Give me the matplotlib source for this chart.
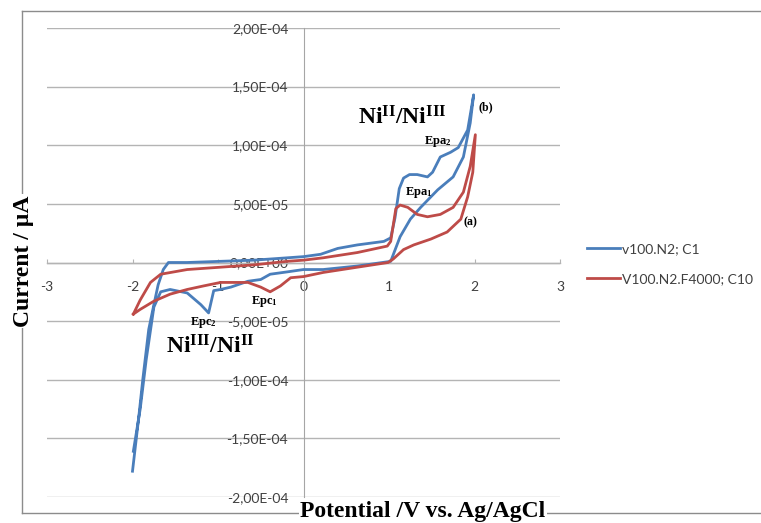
import matplotlib
matplotlib.use("Agg")
import matplotlib.pyplot as plt
import numpy as np
from matplotlib.ticker import FuncFormatter
from matplotlib.lines import Line2D

# Cyclic voltammograms (potential in V, current in 1e-5 A)
blue_x = [-2.00, -1.93, -1.88, -1.81, -1.75, -1.70, -1.64, -1.58, -1.36, -0.97, -0.58, -0.19,
          0.00, 0.20, 0.40, 0.63, 0.94, 1.02, 1.07, 1.12, 1.17, 1.24, 1.33, 1.45, 1.51, 1.60,
          1.72, 1.81, 1.92, 1.99,
          1.95, 1.87, 1.75, 1.57, 1.37, 1.25, 1.13, 1.02, 0.63, 0.23, 0.00, -0.19, -0.39,
          -0.50, -0.65, -0.85, -0.97, -1.05, -1.11, -1.20, -1.36, -1.56, -1.67, -1.75, -1.84,
          -1.91, -1.99]
blue_y = [-17.8, -13.4, -10.0, -5.7, -3.6, -1.9, -0.6, 0.0, 0.0, 0.1, 0.2, 0.4,
          0.5, 0.7, 1.2, 1.5, 1.8, 2.1, 3.8, 6.3, 7.2, 7.5, 7.5, 7.3, 7.7, 9.0,
          9.4, 9.8, 11.3, 14.3,
          11.9, 9.0, 7.3, 6.2, 4.7, 3.7, 2.2, 0.1, -0.3, -0.6, -0.6, -0.8, -1.0,
          -1.45, -1.6, -2.1, -2.3, -2.4, -4.3, -3.6, -2.6, -2.3, -2.5, -3.8, -8.3,
          -12.5, -16.1]

red_x = [-1.99, -1.91, -1.79, -1.67, -1.36, -0.97, -0.58, -0.19, 0.00, 0.23, 0.63, 0.98,
         1.02, 1.08, 1.13, 1.22, 1.33, 1.45, 1.60, 1.75, 1.87, 1.95, 2.01,
         1.98, 1.92, 1.84, 1.68, 1.49, 1.29, 1.17, 1.05, 0.99, 0.63, 0.23, 0.00, -0.15,
         -0.27, -0.39, -0.50, -0.65, -0.97, -1.17, -1.36, -1.56, -1.75, -1.91, -1.99]
red_y = [-4.4, -3.2, -1.7, -1.0, -0.6, -0.4, -0.2, 0.1, 0.2, 0.4, 0.85, 1.4,
         1.8, 4.6, 4.9, 4.7, 4.1, 3.9, 4.1, 4.7, 6.0, 8.2, 10.9,
         7.7, 5.6, 3.7, 2.6, 2.0, 1.5, 1.1, 0.3, 0.0, -0.4, -0.85, -1.2, -1.3,
         -2.0, -2.5, -2.1, -1.7, -1.7, -2.0, -2.3, -2.7, -3.3, -4.0, -4.4]

series_labels = ["v100.N2; C1", "V100.N2.F4000; C10"]
x_ticks = [-3, -2, -1, 0, 1, 2, 3]
y_ticks = [-2e-4, -1.5e-4, -1e-4, -5e-5, 0, 5e-5, 1e-4, 1.5e-4, 2e-4]

BLUE = "#4A7EBB"
RED = "#BE4B48"
GRID = "#B4B4B4"
SERIF = "Liberation Serif"
SANS = "Lato"

plt.rcParams["axes.unicode_minus"] = False
plt.rcParams["mathtext.fontset"] = "custom"
plt.rcParams["mathtext.rm"] = SERIF
plt.rcParams["mathtext.bf"] = SERIF + ":bold"

W, H = 761, 523
fig = plt.figure(figsize=(W / 100, H / 100), dpi=100)
ax = fig.add_axes([47 / W, 26 / H, 513 / W, 469 / H])

ax.plot(blue_x, np.array(blue_y) * 1e-5, color=BLUE, lw=2, label=series_labels[0],
        solid_joinstyle="round", zorder=3)
ax.plot(red_x, np.array(red_y) * 1e-5, color=RED, lw=2, label=series_labels[1],
        solid_joinstyle="round", zorder=3)

ax.set_xlim(-3, 3)
ax.set_ylim(-2e-4, 2e-4)
ax.set_xticks(x_ticks)
ax.set_yticks(y_ticks)
ax.yaxis.set_major_formatter(FuncFormatter(lambda v, p: "{:.2E}".format(v).replace(".", ",")))

for side in ["top", "right"]:
    ax.spines[side].set_visible(False)
ax.spines["left"].set_position(("data", 0))
ax.spines["bottom"].set_position(("data", 0))
ax.spines["left"].set_color("#A6A6A6")
ax.spines["left"].set_linewidth(0.8)
ax.spines["bottom"].set_color(GRID)
ax.spines["bottom"].set_linewidth(1)

ax.grid(axis="y", color=GRID, lw=1)
ax.set_axisbelow(True)
ax.tick_params(axis="y", length=0, pad=11, labelsize=10, labelcolor="#404040")
ax.tick_params(axis="x", direction="in", length=3, color=GRID, pad=13,
               labelsize=10, labelcolor="#404040")
for lab in ax.get_xticklabels() + ax.get_yticklabels():
    lab.set_family(SANS)

# peak labels
small = dict(family=SERIF, weight="bold", fontsize=8.5, ha="center", va="center")
ax.text(1.16, 1.24e-4, r"$\mathbf{Ni^{II}/Ni^{III}}$", fontsize=17, ha="center", va="center")
ax.text(-1.09, -7.2e-5, r"$\mathbf{Ni^{III}/Ni^{II}}$", fontsize=17, ha="center", va="center")
ax.text(2.13, 1.32e-4, "(b)", **small)
ax.text(1.95, 3.4e-5, "(a)", **small)
ax.text(1.57, 1.03e-4, r"$\mathbf{Epa_2}$", fontsize=9, ha="center", va="center")
ax.text(1.35, 6.0e-5, r"$\mathbf{Epa_1}$", fontsize=9, ha="center", va="center")
ax.text(-0.46, -3.3e-5, r"$\mathbf{Epc_1}$", fontsize=9, ha="center", va="center")
ax.text(-1.17, -5.1e-5, r"$\mathbf{Epc_2}$", fontsize=9, ha="center", va="center")

leg = ax.legend(loc="center left", bbox_to_anchor=(587 / W, 1 - 264 / H),
                bbox_transform=fig.transFigure, frameon=False, borderpad=0,
                borderaxespad=0, handlelength=2.4, handletextpad=0.1, labelspacing=1.3,
                prop=dict(family=SANS, size=10))
for t in leg.get_texts():
    t.set_color("#404040")

# chart-area border of the spreadsheet figure
bc = "#8C8C8C"
fig.add_artist(Line2D([22 / W, 1], [1 - 11 / H] * 2, transform=fig.transFigure, color=bc, lw=1))
fig.add_artist(Line2D([22 / W, 22 / W], [1 - 11 / H, 1 - 513 / H], transform=fig.transFigure, color=bc, lw=1))
fig.add_artist(Line2D([22 / W, 1], [1 - 513 / H] * 2, transform=fig.transFigure, color=bc, lw=1))

title_box = dict(facecolor="white", edgecolor="none", pad=1)
fig.text(23 / W, 1 - 261 / H, "Current / µA", rotation=90, ha="center", va="center",
         family=SERIF, weight="bold", fontsize=17, bbox=title_box, zorder=5)
fig.text(423 / W, 1 - 512 / H, "Potential /V vs. Ag/AgCl", ha="center", va="center",
         family=SERIF, weight="bold", fontsize=17, bbox=title_box, zorder=5)

fig.savefig("out.png", dpi=100)
